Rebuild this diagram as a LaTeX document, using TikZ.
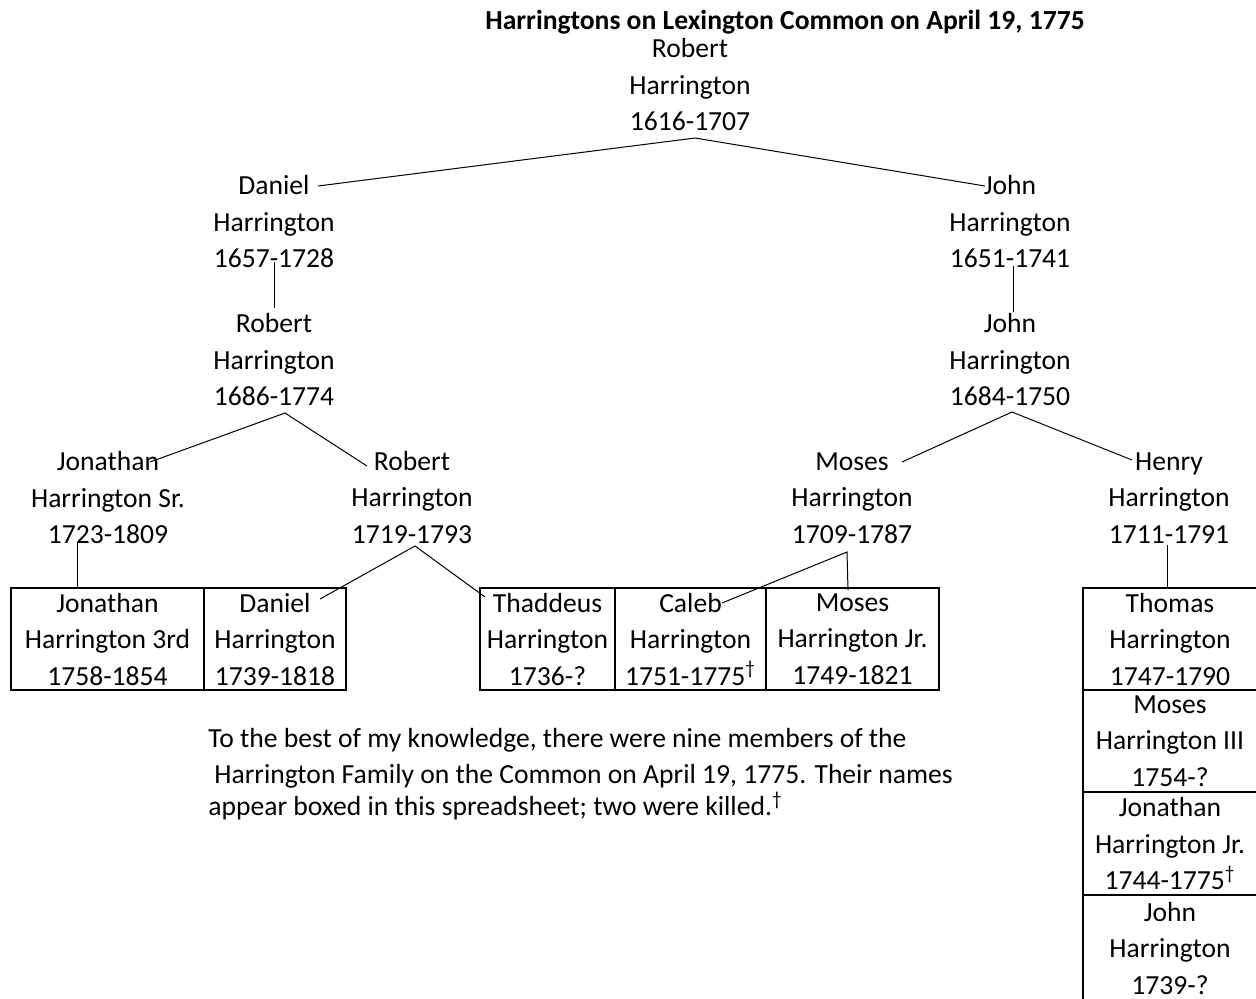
\documentclass[tikz,border=0pt]{standalone}
\usepackage{fontspec}
\setmainfont{Carlito}
\usetikzlibrary{positioning}

\begin{document}
\begin{tikzpicture}[x=0.5pt, y=-0.5pt,
        person/.style={align=center, inner sep=0pt, font=\fontsize{13.8pt}{18.25pt}\selectfont},
        onfield/.style={person, draw, line width=0.75pt, minimum height=51pt},
        link/.style={line width=0.5pt}]
    \useasboundingbox (0,0) rectangle (1256,998);

    \node[person, font=\fontsize{13.8pt}{18.25pt}\selectfont\bfseries] (title) at (785,22) {Harringtons on Lexington Common on April 19, 1775};

    % ancestors
    \node[person] (rob1) at (690,85) {Robert\\Harrington\\1616-1707};
    \node[person] (dan) at (274,222) {Daniel\\Harrington\\1657-1728};
    \node[person] (john1) at (1010,222) {John\\Harrington\\1651-1741};
    \node[person] (rob2) at (274,360) {Robert\\Harrington\\1686-1774};
    \node[person] (john2) at (1010,360) {John\\Harrington\\1684-1750};
    \node[person] (jon1) at (108,498) {Jonathan\\Harrington Sr.\\1723-1809};
    \node[person] (rob3) at (412,497) {Robert\\Harrington\\1719-1793};
    \node[person] (moses1) at (852,498) {Moses\\Harrington\\1709-1787};
    \node[person] (henry) at (1169,498) {Henry\\Harrington\\1711-1791};

    % on the common
    \node[onfield, minimum width=96.5pt] (jon3) at (107.5,639) {Jonathan\\Harrington 3rd\\1758-1854};
    \node[onfield, minimum width=71pt] (dan2) at (275,639) {Daniel\\Harrington\\1739-1818};
    \node[onfield, minimum width=67.5pt] (thad) at (547.5,639) {Thaddeus\\Harrington\\1736-?};
    \node[onfield, minimum width=75.5pt] (caleb) at (690.5,639) {Caleb\\Harrington\\1751-1775\textsuperscript{†}};
    \node[onfield, minimum width=86.5pt] (moses2) at (852.5,639) {Moses\\Harrington Jr.\\1749-1821};
    \node[onfield, minimum width=87pt] (thomas) at (1170,639) {Thomas\\Harrington\\1747-1790};
    \node[onfield, minimum width=87pt] (moses3) at (1170,741) {Moses\\Harrington III\\1754-?};
    \node[onfield, minimum width=87pt, minimum height=51.5pt] (jon2) at (1170,843.5) {Jonathan\\Harrington Jr.\\1744-1775\textsuperscript{†}};
    \node[onfield, minimum width=87pt, minimum height=53pt] (john3) at (1170,948) {John\\Harrington\\1739-?};

    \node[person, anchor=west] (note1) at (208,740) {To the best of my knowledge, there were nine members of the};
    \node[person, anchor=west] (note2) at (214,776) {Harrington Family on the Common on April 19, 1775. Their names};
    \node[person, anchor=west] (note3) at (208,806) {appear boxed in this spreadsheet; two were killed.\textsuperscript{†}};

    % lines
    \draw[link] ([shift={(44,-36)}]dan.center) -- ([shift={(5,53)}]rob1.center) -- ([shift={(-25,-36)}]john1.center);
    \draw[link] ([shift={(0,40)}]dan.center) -- ([shift={(0,-52)}]rob2.center);
    \draw[link] ([shift={(3,44)}]john1.center) -- ([shift={(3,-48)}]john2.center);
    \draw[link] ([shift={(42,-36)}]jon1.center) -- ([shift={(11,53)}]rob2.center) -- ([shift={(-45,-31)}]rob3.center);
    \draw[link] ([shift={(50,-36)}]moses1.center) -- ([shift={(2,52)}]john2.center) -- ([shift={(-37,-38)}]henry.center);
    \draw[link] ([shift={(-31,44)}]jon1.center) -- ([xshift=-15.25pt]jon3.north);
    \draw[link] ([shift={(45,-40)}]dan2.center) -- ([shift={(3,49)}]rob3.center) -- ([shift={(-62.5,-42)}]thad.center);
    \draw[link] ([shift={(31.5,-36)}]caleb.center) -- ([shift={(-5,54)}]moses1.center) -- ([shift={(-4.5,-49)}]moses2.center);
    \draw[link] ([shift={(-2,47)}]henry.center) -- ([xshift=-1.5pt]thomas.north);
\end{tikzpicture}
\end{document}
